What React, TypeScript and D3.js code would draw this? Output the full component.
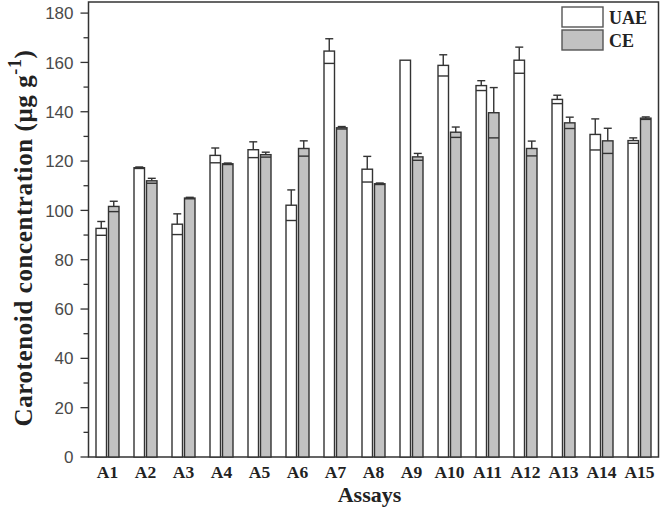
import { useEffect, useRef } from "react"
import * as d3 from "d3"

const assays = ["A1", "A2", "A3", "A4", "A5", "A6", "A7", "A8", "A9", "A10", "A11", "A12", "A13", "A14", "A15"]
const uaeValues = [92.7, 117.3, 94.4, 122.3, 124.6, 102.1, 164.6, 116.7, 160.9, 158.8, 150.6, 160.9, 145.0, 130.8, 128.3]
const uaeErrors = [2.8, 0.3, 4.2, 3.0, 3.2, 6.2, 5.0, 5.2, 0, 4.3, 2.0, 5.3, 1.7, 6.3, 1.1]
const ceValues = [101.6, 112.0, 105.0, 118.9, 122.6, 125.1, 133.5, 110.8, 121.7, 131.7, 139.6, 125.1, 135.5, 128.2, 137.4]
const ceErrors = [2.1, 1.0, 0.3, 0.3, 1.0, 3.1, 0.5, 0.3, 1.4, 2.1, 10.2, 3.0, 2.3, 5.1, 0.5]
const yTicks = [0, 20, 40, 60, 80, 100, 120, 140, 160, 180]
const yMinorTicks = [10, 30, 50, 70, 90, 110, 130, 150, 170]
const seriesNames = ["UAE", "CE"]

export default function App() {
  const svgRef = useRef<SVGSVGElement>(null)

  useEffect(() => {
    if (!svgRef.current) return
    const svg = d3.select(svgRef.current)
    svg.selectAll("*").remove()

    const left = 88.5
    const right = 658.5
    const top = 2
    const bottom = 457

    const ink = "#333"
    const fill = { UAE: "#ffffff", CE: "#c2c2c2" } as Record<string, string>
    const serif = "Liberation Serif, Times New Roman, serif"

    const x = d3.scaleBand().domain(assays).range([left, right]).padding(0)
    const y = d3.scaleLinear().domain([0, 184.5]).range([bottom, top])

    const barW = 10.5
    const gap = 2

    // frame
    svg.append("rect")
      .attr("x", left)
      .attr("y", top)
      .attr("width", right - left)
      .attr("height", bottom - top)
      .attr("fill", "white")
      .attr("stroke", ink)
      .attr("stroke-width", 1.5)

    const rows = assays.map((a, i) => ({
      a,
      bars: [
        { s: "UAE", v: uaeValues[i], e: uaeErrors[i] },
        { s: "CE", v: ceValues[i], e: ceErrors[i] },
      ],
    }))

    const g = svg.append("g")
    rows.forEach((row) => {
      const cx = (x(row.a) as number) + x.bandwidth() / 2
      row.bars.forEach((b, j) => {
        const bx = j === 0 ? cx - gap / 2 - barW : cx + gap / 2
        g.append("rect")
          .attr("x", bx)
          .attr("y", y(b.v))
          .attr("width", barW)
          .attr("height", y(0) - y(b.v))
          .attr("fill", fill[b.s])
          .attr("stroke", ink)
          .attr("stroke-width", 1.4)
        if (b.e > 0) {
          const mx = bx + barW / 2
          // upper whisker with cap
          g.append("line")
            .attr("x1", mx).attr("x2", mx)
            .attr("y1", y(b.v)).attr("y2", y(b.v + b.e))
            .attr("stroke", ink).attr("stroke-width", 1.4)
          g.append("line")
            .attr("x1", mx - 4).attr("x2", mx + 4)
            .attr("y1", y(b.v + b.e)).attr("y2", y(b.v + b.e))
            .attr("stroke", ink).attr("stroke-width", 1.4)
          // lower cap across the bar
          g.append("line")
            .attr("x1", bx).attr("x2", bx + barW)
            .attr("y1", y(b.v - b.e)).attr("y2", y(b.v - b.e))
            .attr("stroke", ink).attr("stroke-width", 1.4)
        }
      })
    })

    // y axis ticks
    const ax = svg.append("g")
    yTicks.forEach((t) => {
      ax.append("line")
        .attr("x1", left - 8).attr("x2", left)
        .attr("y1", y(t)).attr("y2", y(t))
        .attr("stroke", ink).attr("stroke-width", 1.3)
      ax.append("text")
        .attr("x", left - 15)
        .attr("y", y(t))
        .attr("dy", "0.36em")
        .attr("text-anchor", "end")
        .attr("font-family", "Liberation Sans, Arial, sans-serif")
        .attr("font-size", 17)
        .attr("fill", "#4a4a4a")
        .text(t)
    })
    yMinorTicks.forEach((t) => {
      ax.append("line")
        .attr("x1", left - 5).attr("x2", left)
        .attr("y1", y(t)).attr("y2", y(t))
        .attr("stroke", ink).attr("stroke-width", 1.3)
    })

    // x labels
    assays.forEach((a) => {
      svg.append("text")
        .attr("x", (x(a) as number) + x.bandwidth() / 2)
        .attr("y", 478)
        .attr("text-anchor", "middle")
        .attr("font-family", serif)
        .attr("font-weight", "bold")
        .attr("font-size", 17.5)
        .attr("fill", "#222")
        .text(a)
    })

    svg.append("text")
      .attr("x", (left + right) / 2 - 4)
      .attr("y", 502)
      .attr("text-anchor", "middle")
      .attr("font-family", serif)
      .attr("font-weight", "bold")
      .attr("font-size", 22)
      .attr("fill", "#222")
      .text("Assays")

    const yt = svg.append("text")
      .attr("transform", `translate(32, 238) rotate(-90)`)
      .attr("text-anchor", "middle")
      .attr("font-family", serif)
      .attr("font-weight", "bold")
      .attr("font-size", 25)
      .attr("letter-spacing", 0.6)
      .attr("fill", "#222")
    yt.append("tspan").text("Carotenoid concentration (μg g")
    yt.append("tspan").attr("dy", -11).attr("font-size", 18).text("-1")
    yt.append("tspan").attr("dy", 11).text(")")

    // legend
    const lg = svg.append("g").attr("transform", "translate(562, 7)")
    seriesNames.forEach((s, i) => {
      lg.append("rect")
        .attr("x", 0)
        .attr("y", i * 23)
        .attr("width", 41)
        .attr("height", 20)
        .attr("fill", fill[s])
        .attr("stroke", "#555")
        .attr("stroke-width", 1.4)
      lg.append("text")
        .attr("x", 47)
        .attr("y", i * 23 + 17)
        .attr("font-family", serif)
        .attr("font-weight", "bold")
        .attr("font-size", 18)
        .attr("fill", "#222")
        .text(s)
    })
  }, [])

  return (
    <svg
      ref={svgRef}
      width={661}
      height={511}
      style={{ position: "absolute", left: 0, top: 0, background: "white" }}
    />
  )
}
